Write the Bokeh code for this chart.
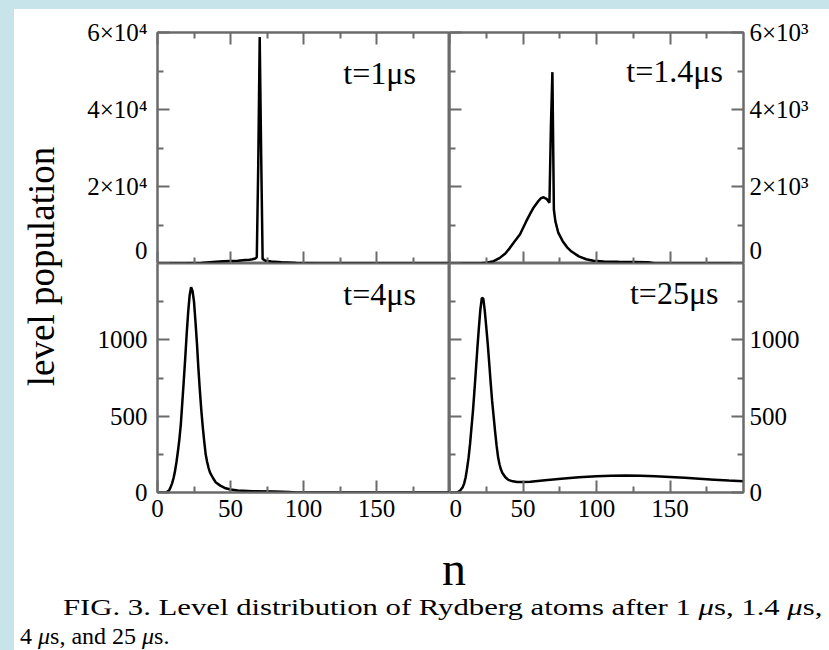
from math import pi
from bokeh.plotting import figure
from bokeh.models import FixedTicker, LinearAxis, Range1d, Label, Div, GlobalInlineStyleSheet
from bokeh.layouts import row, column
from bokeh.embed import file_html
from bokeh.resources import INLINE

# ---------------- data ----------------
# t = 1 us
n_1us = [0, 10, 20, 30, 38, 45, 50, 55, 60, 63, 65, 67, 68, 69, 70, 71, 72, 74, 78, 85, 95, 110, 200]
pop_1us = [0, 0, 50, 150, 400, 600, 650, 700, 900, 1000, 1100, 1300, 1600, 25500, 58800, 28400,
           1200, 700, 500, 300, 100, 20, 0]
# t = 1.4 us
n_14us = [0, 20, 25, 30, 34, 38, 41, 44, 48, 52, 55, 57, 60, 62, 64, 66, 68, 69, 70, 71, 72, 74,
          77, 80, 83, 88, 93, 98, 105, 115, 125, 135, 140, 200]
pop_14us = [0, 0, 20, 60, 140, 260, 400, 560, 760, 1080, 1300, 1440, 1600, 1690, 1720, 1680, 1580,
            3580, 4970, 1400, 1100, 800, 580, 420, 310, 185, 110, 70, 55, 45, 40, 35, 0, 0]
# t = 4 us
n_4us = [0, 6, 8, 9, 10, 11, 12, 13, 14, 15, 16, 17, 18, 19, 20, 21, 22, 23, 24, 25, 26, 27, 28,
         29, 30, 31, 32, 33, 34, 35, 36, 38, 40, 43, 46, 50, 55, 65, 80, 90, 95, 200]
pop_4us = [0, 0, 15, 35, 60, 95, 140, 200, 270, 350, 450, 590, 733, 880, 1040, 1180, 1290, 1345,
           1320, 1250, 1120, 980, 815, 670, 540, 430, 335, 250, 200, 160, 130, 95, 65, 45, 30, 20,
           13, 8, 6, 4, 0, 0]
# t = 25 us
n_25us = [0, 5, 7, 9, 10, 11, 12, 13, 14, 15, 16, 17, 18, 19, 20, 21, 22, 23, 24, 25, 26, 27, 28,
          29, 30, 31, 32, 33, 34, 35, 36, 38, 40, 43, 46, 49, 55, 65, 76, 88, 100, 110, 120, 130,
          140, 150, 160, 170, 180, 190, 200]
pop_25us = [0, 0, 10, 35, 60, 100, 160, 230, 320, 430, 540, 670, 810, 950, 1080, 1200, 1275, 1270,
            1190, 1085, 975, 850, 720, 600, 500, 400, 310, 235, 185, 150, 128, 100, 83, 73, 69, 68,
            70, 80, 90, 100, 106, 110, 111, 110, 106, 102, 96, 90, 84, 78, 73]

x_ticks = [0, 50, 100, 150]
x_minor = [25, 75, 125, 175]
top_left_ticks = [0, 20000, 40000, 60000]
top_left_minor = [10000, 30000, 50000]
top_left_labels = {0: "0", 20000: "2×10⁴", 40000: "4×10⁴", 60000: "6×10⁴"}
top_right_ticks = [0, 2000, 4000, 6000]
top_right_minor = [1000, 3000, 5000]
top_right_labels = {0: "0", 2000: "2×10³", 4000: "4×10³", 6000: "6×10³"}
bot_ticks = [0, 500, 1000]
bot_minor = [250, 750, 1250]
panel_titles = ["t=1μs", "t=1.4μs", "t=4μs", "t=25μs"]

FONT = "Liberation Serif"
AX = "#6b6b6b"
TICK_FS = "25px"


def make_panel(yr, fw, fh, bl, br, bt, bb):
    p = figure(frame_width=fw, frame_height=fh, x_range=Range1d(0, 200), y_range=Range1d(*yr),
               output_backend="svg", toolbar_location=None,
               x_axis_location=None, y_axis_location=None,
               min_border_left=bl, min_border_right=br, min_border_top=bt, min_border_bottom=bb,
               background_fill_color="white", border_fill_color="white",
               outline_line_color=AX, outline_line_width=2)
    p.xgrid.visible = False
    p.ygrid.visible = False
    return p


def add_axis(p, side, ticks, minor, show_labels, overrides=None, standoff=6):
    ax = LinearAxis(ticker=FixedTicker(ticks=ticks, minor_ticks=minor),
                    axis_line_color=AX, axis_line_width=2,
                    major_tick_in=12, major_tick_out=0, minor_tick_in=6, minor_tick_out=0,
                    major_tick_line_color=AX, major_tick_line_width=2,
                    minor_tick_line_color=AX, minor_tick_line_width=2,
                    major_label_text_font=FONT,
                    major_label_text_font_size=TICK_FS if show_labels else "0px",
                    major_label_text_color="black",
                    major_label_standoff=standoff if show_labels else 0)
    if overrides:
        ax.major_label_overrides = overrides
    elif not show_labels:
        ax.major_label_overrides = {t: "" for t in ticks}
    p.add_layout(ax, side)


def add_title(p, x, y, text):
    p.add_layout(Label(x=x, y=y, text=text, text_align="right", text_baseline="alphabetic",
                       text_font=FONT, text_font_size="32px", text_color="black"))


# top-left
tl = make_panel((0, 60000), 292, 231, 90, 0, 23, 0)
add_axis(tl, "left", top_left_ticks, top_left_minor, True, top_left_labels, standoff=10)
add_axis(tl, "above", x_ticks, x_minor, False)
add_axis(tl, "below", x_ticks, x_minor, False)
tl.line(n_1us, pop_1us, line_color="black", line_width=2.5)
add_title(tl, 177, 49600, panel_titles[0])

# top-right
tr = make_panel((0, 6000), 294, 231, 0, 78, 23, 0)
add_axis(tr, "left", top_right_ticks, top_right_minor, False)
add_axis(tr, "right", top_right_ticks, top_right_minor, True, top_right_labels)
add_axis(tr, "above", x_ticks, x_minor, False)
add_axis(tr, "below", x_ticks, x_minor, False)
tr.line(n_14us, pop_14us, line_color="black", line_width=2.5)
add_title(tr, 186, 4990, panel_titles[1])

# bottom-left
bl = make_panel((0, 1500), 292, 229, 90, 0, 0, 31)
add_axis(bl, "left", bot_ticks, bot_minor, True, standoff=10)
add_axis(bl, "below", x_ticks, x_minor, True, standoff=7)
bl.line(n_4us, pop_4us, line_color="black", line_width=2.5)
add_title(bl, 177, 1297, panel_titles[2])

# bottom-right
br = make_panel((0, 1500), 294, 229, 0, 78, 0, 31)
add_axis(br, "left", bot_ticks, bot_minor, False)
add_axis(br, "right", bot_ticks, bot_minor, True)
add_axis(br, "below", x_ticks, x_minor, True, standoff=7)
br.line(n_25us, pop_25us, line_color="black", line_width=2.5)
add_title(br, 183, 1310, panel_titles[3])

# y-axis label column
yl = figure(frame_width=53, frame_height=514, x_range=Range1d(0, 1), y_range=Range1d(0, 1),
            output_backend="svg", toolbar_location=None, x_axis_location=None,
            y_axis_location=None, min_border_left=0, min_border_right=0, min_border_top=0,
            min_border_bottom=0, outline_line_color=None, border_fill_color="white",
            background_fill_color="white")
yl.xgrid.visible = False
yl.ygrid.visible = False
yl.add_layout(Label(x=0.5, y=0.5, text="level population", angle=pi / 2, text_align="center",
                    text_baseline="middle", text_font=FONT, text_font_size="37px",
                    text_color="black"))

caption_html = (
    '<div style="position:relative;width:807px;height:127px;font-family:\'Liberation Serif\',serif;'
    'color:#000;background:#fff;">'
    '<div style="position:absolute;left:0;top:17px;width:870px;text-align:center;'
    'font-size:48px;line-height:48px;">n</div>'
    '<div style="position:absolute;left:44px;top:65px;white-space:nowrap;font-size:24px;'
    'line-height:28px;transform:scaleX(1.28);transform-origin:0 0;">'
    'FIG. 3. Level distribution of Rydberg atoms after 1 <i>μ</i>s, 1.4 <i>μ</i>s,</div>'
    '<div style="position:absolute;left:1px;top:94px;white-space:nowrap;font-size:24px;'
    'line-height:28px;">'
    '4 <i>μ</i>s, and 25 <i>μ</i>s.</div>'
    '</div>'
)
cap = Div(text=caption_html, width=807, height=127)

css = GlobalInlineStyleSheet(css="""
html { height: 100%; background-color: #ffffff;
  background-image: linear-gradient(#c6e4e9, #c6e4e9), linear-gradient(#c6e4e9, #c6e4e9);
  background-repeat: no-repeat; background-size: 14px 100%, 100% 9px;
  background-position: 0 0, 0 0; overflow: hidden; }
body { background: transparent; overflow: hidden; }
""")

panels = column(row(tl, tr), row(bl, br))
root = column(row(yl, panels), cap, margin=(9, 0, 0, 14), stylesheets=[css])

open("out.html", "w").write(file_html(root, INLINE))
